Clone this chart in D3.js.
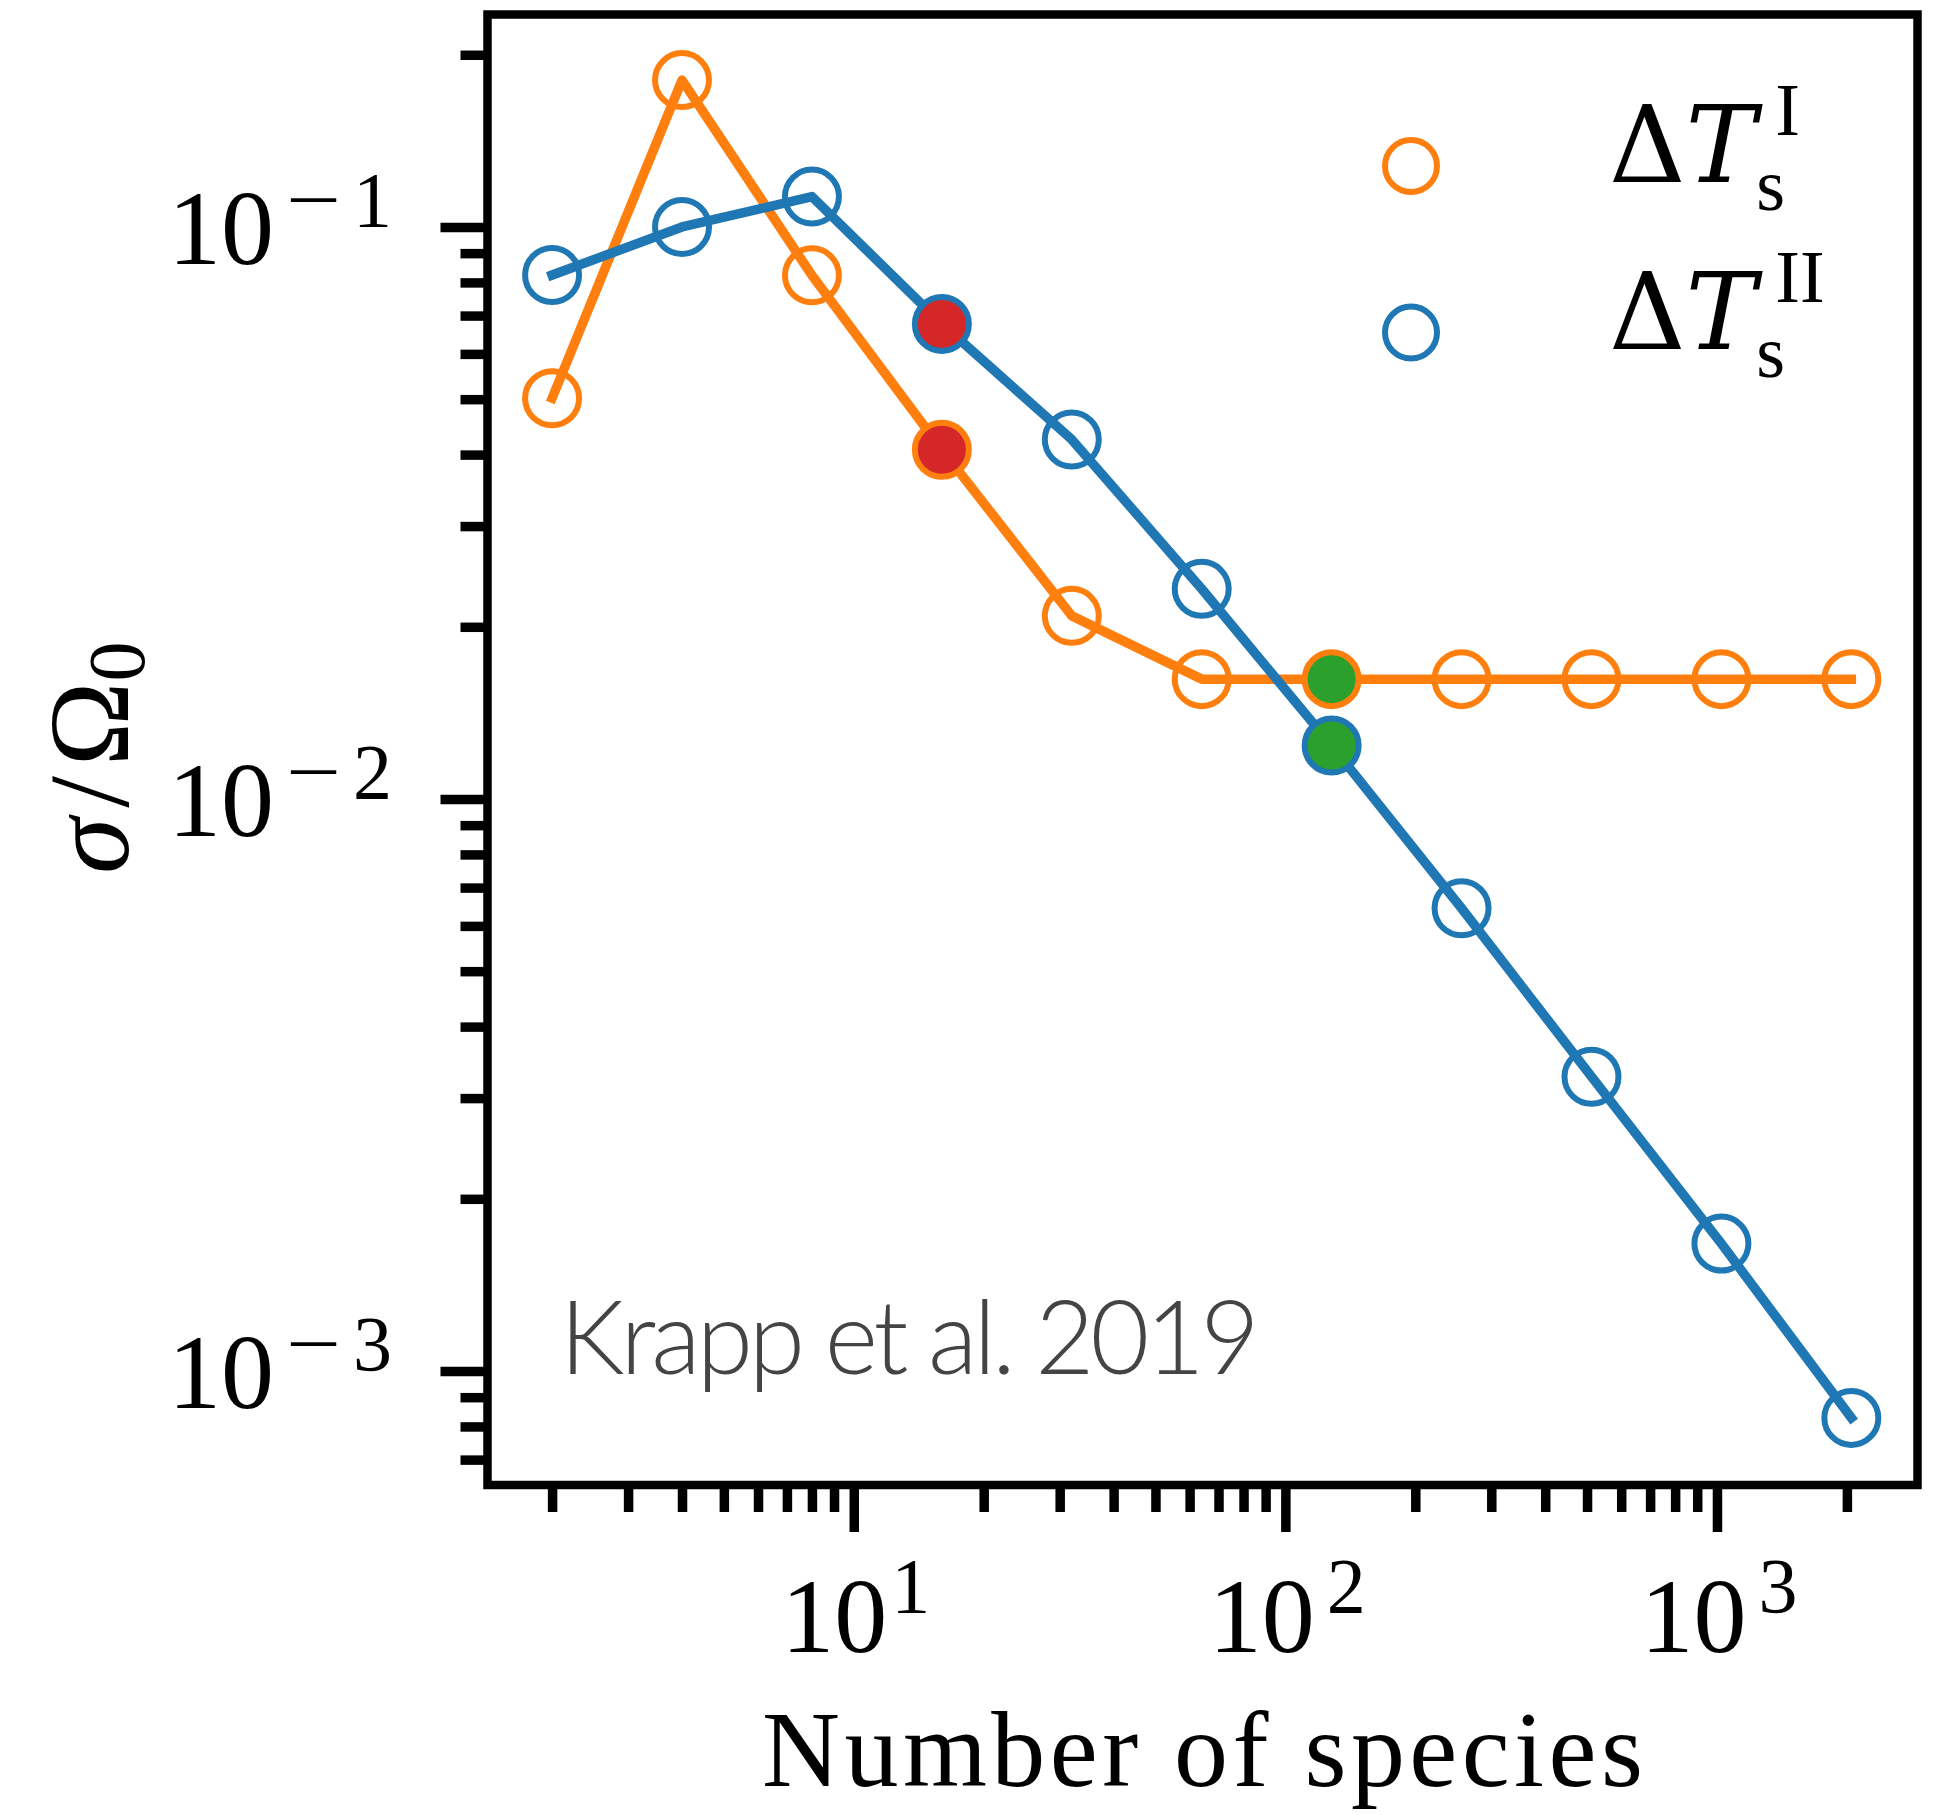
<!DOCTYPE html>
<html>
<head>
<meta charset="utf-8">
<script src="https://cdn.jsdelivr.net/npm/d3@7"></script>
<style>
	body { margin: 0; background: #fff; }
	svg text { font-family: 'Liberation Serif', 'DejaVu Serif', serif; fill: #000; }
</style>
</head>
<body>
<div id="chart"></div>
<script>
// number of species on the x axis
var species = [2, 4, 8, 16, 32, 64, 128, 256, 512, 1024, 2048];
// sigma / Omega_0 for the two timescales
var sigmaTypeI = [0.0502, 0.1806, 0.0823, 0.0408, 0.0209, 0.0162, 0.0162, 0.0162, 0.0162, 0.0162, 0.0162];
var sigmaTypeII = [0.0824, 0.1000, 0.1130, 0.0677, 0.0425, 0.0233, 0.0124, 0.00644, 0.00327, 0.00167, 0.000828];
// points that are marked with a filled dot
var redSpecies = [16];
var greenSpecies = [128];
// axis limits and labelled ticks
var xLimits = [1.417, 2915];
var yLimits = [0.000632, 0.2352];
var xMajorTicks = [10, 100, 1000];
var xTickExponents = ['1', '2', '3'];
var yMajorTicks = [0.1, 0.01, 0.001];
var yTickExponents = ['1', '2', '3'];
var legendSuperscripts = ['I', 'II'];
var annotation = 'Krapp et al. 2019';

(function ()	{
	'use strict';

	var width = 1946,
			height = 1815;
	var box = { left: 487.5, right: 1917.5, top: 14.5, bottom: 1485 };
	var colors = { one: '#ff7f0e', two: '#1f77b4', red: '#d62728', green: '#2ca02c' };

	var svg = d3.select('#chart').append('svg')
							.attr('width', width)
							.attr('height', height);

	var x = d3.scaleLog().domain(xLimits).range([box.left, box.right]);
	var y = d3.scaleLog().domain(yLimits).range([box.bottom, box.top]);

	function isMajor (v)	{
		var l = Math.log10(v);
		return Math.abs(l - Math.round(l)) < 1e-9;
	};

	function drawTicks (axis, values, size, transform)	{
		var g = svg.append('g')
							 .attr('transform', transform)
							 .call(axis.tickValues(values).tickSize(size)
												 .tickSizeOuter(0).tickFormat(''));
		g.select('.domain').remove();
		g.selectAll('.tick line')
		 .attr('stroke', '#000')
		 .attr('stroke-width', 9.5);
		return g;
	};

	var xMinor = x.ticks().filter(function (d) { return !isMajor(d); });
	var yMinor = y.ticks().filter(function (d) { return !isMajor(d); });

	drawTicks(d3.axisBottom(x), xMinor, 27, 'translate(0,' + box.bottom + ')');
	drawTicks(d3.axisBottom(x), xMajorTicks, 47, 'translate(0,' + box.bottom + ')');
	drawTicks(d3.axisLeft(y), yMinor, 27, 'translate(' + box.left + ',0)');
	drawTicks(d3.axisLeft(y), yMajorTicks, 47, 'translate(' + box.left + ',0)');

	// tick labels written as 10^k, negative ones get a wide minus
	function powerLabel (g, px, py, exp, anchor, negative)	{
		var t = g.append('text')
						 .attr('x', px)
						 .attr('y', py)
						 .attr('text-anchor', anchor);
		t.append('tspan').attr('font-size', 106).text('10');
		if (negative)	{
			t.append('tspan')
			 .attr('font-size', 78)
			 .attr('dx', 12)
			 .attr('dy', -38)
			 .attr('textLength', 55)
			 .attr('lengthAdjust', 'spacingAndGlyphs')
			 .text('\u2212');
			t.append('tspan')
			 .attr('font-size', 78)
			 .attr('dx', 12)
			 .text(exp);
		} else {
			t.append('tspan')
			 .attr('font-size', 78)
			 .attr('dx', exp === '1' ? 4 : 12)
			 .attr('dy', -40)
			 .text(exp);
		}
	};

	var labels = svg.append('g');
	xMajorTicks.forEach(function (d, i)	{
		powerLabel(labels, x(d) + 2, 1652, xTickExponents[i], 'middle', false);
	});
	yMajorTicks.forEach(function (d, i)	{
		powerLabel(labels, 392, y(d) + 37, yTickExponents[i], 'end', true);
	});

	// axis titles
	svg.append('text')
		 .attr('x', (box.left + box.right) / 2)
		 .attr('y', 1786)
		 .attr('text-anchor', 'middle')
		 .attr('font-size', 108)
		 .attr('textLength', 881)
		 .attr('lengthAdjust', 'spacing')
		 .text('Number of species');

	var yt = svg.append('text')
							.attr('transform', 'translate(128,' + ((box.top + box.bottom) / 2 + 8) + ') rotate(-90)')
							.attr('text-anchor', 'middle')
							.attr('font-size', 114);
	yt.append('tspan').attr('font-style', 'italic').text('\u03c3');
	yt.append('tspan').attr('dx', 10).text('/');
	yt.append('tspan').attr('dx', 10).text('\u03a9');
	yt.append('tspan').attr('font-size', 80).attr('dy', 16).text('0');

	// series
	var line = d3.line()
							 .x(function (d) { return x(d.n); })
							 .y(function (d) { return y(d.v); });

	function toPoints (values)	{
		return species.map(function (n, i) { return { n: n, v: values[i] }; });
	};

	function fillFor (n)	{
		if (redSpecies.indexOf(n) > -1) { return colors.red; }
		if (greenSpecies.indexOf(n) > -1) { return colors.green; }
		return 'none';
	};

	function drawSeries (values, color)	{
		var pts = toPoints(values);
		var g = svg.append('g');

		g.append('path')
		 .datum(pts)
		 .attr('d', line)
		 .attr('fill', 'none')
		 .attr('stroke', color)
		 .attr('stroke-width', 9.5)
		 .attr('stroke-linecap', 'square')
		 .attr('stroke-linejoin', 'round');

		g.selectAll('circle')
		 .data(pts)
		 .enter().append('circle')
		 .attr('cx', function (d) { return x(d.n); })
		 .attr('cy', function (d) { return y(d.v); })
		 .attr('r', 27)
		 .attr('fill', function (d) { return fillFor(d.n); })
		 .attr('stroke', color)
		 .attr('stroke-width', 6);
	};

	drawSeries(sigmaTypeI, colors.one);
	drawSeries(sigmaTypeII, colors.two);

	// frame
	svg.append('rect')
		 .attr('x', box.left)
		 .attr('y', box.top)
		 .attr('width', box.right - box.left)
		 .attr('height', box.bottom - box.top)
		 .attr('fill', 'none')
		 .attr('stroke', '#000')
		 .attr('stroke-width', 8.5);

	// citation
	svg.append('text')
		 .attr('x', box.left + 0.0505 * (box.right - box.left))
		 .attr('y', box.bottom - 0.0755 * (box.bottom - box.top))
		 .attr('font-size', 102)
		 .attr('textLength', 700)
		 .attr('lengthAdjust', 'spacing')
		 .style('font-family', 'Lato, sans-serif')
		 .style('font-weight', 300)
		 .style('fill', '#444')
		 .text(annotation);

	// legend
	var legend = svg.append('g');
	var legendX = 1411,
			legendY = 166,
			rowStep = 166.5;
	[colors.one, colors.two].forEach(function (c, i)	{
		var cy = legendY + i * rowStep;
		legend.append('circle')
					.attr('cx', legendX)
					.attr('cy', cy)
					.attr('r', 26)
					.attr('fill', 'none')
					.attr('stroke', c)
					.attr('stroke-width', 6);

		var label = legend.append('text')
											.attr('x', legendX + 198)
											.attr('y', cy + 16)
											.style('font-family', "'DejaVu Serif', serif");
		label.append('tspan').attr('font-size', 106).text('\u0394');
		label.append('tspan').attr('font-size', 106).attr('font-style', 'italic').text('T');
		var sub = label.append('tspan')
									 .attr('font-size', 74)
									 .attr('dx', 0)
									 .attr('dy', 28)
									 .style('font-family', "'Liberation Serif', serif")
									 .text('s');
		var sw = sub.node().getComputedTextLength();
		label.append('tspan')
				 .attr('font-size', 74)
				 .attr('dx', -sw + 19)
				 .attr('dy', -75)
				 .style('font-family', "'Liberation Serif', serif")
				 .text(legendSuperscripts[i]);
	});
})();
</script>
</body>
</html>
